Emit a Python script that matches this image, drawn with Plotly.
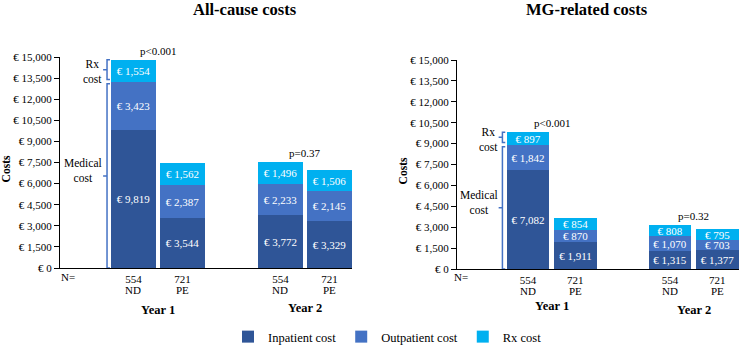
import plotly.graph_objects as go

# ---------------- data ----------------
years = ["Year 1", "Year 2"]
arms = ["ND", "PE"]
n_patients = [554, 721]
components = ["Inpatient cost", "Outpatient cost", "Rx cost"]
colors = ["#2F5597", "#4472C4", "#00B0F0"]

# order: Y1-ND, Y1-PE, Y2-ND, Y2-PE
allcause_inpatient = [9819, 3544, 3772, 3329]
allcause_outpatient = [3423, 2387, 2233, 2145]
allcause_rx = [1554, 1562, 1496, 1506]

mg_inpatient = [7082, 1911, 1315, 1377]
mg_outpatient = [1842, 870, 1070, 703]
mg_rx = [897, 854, 808, 795]

allcause_p = ["p&lt;0.001", "p=0.37"]
mg_p = ["p&lt;0.001", "p=0.32"]

titles = ["All-cause costs", "MG-related costs"]
y_ticks = list(range(0, 15001, 1500))
y_tick_text = [f"€ {v:,}" for v in y_ticks]

FONT = "Liberation Serif, Times New Roman, serif"

# ---------------- layout helpers ----------------
W, H, MB = 741, 353, 8          # figure size and bottom margin (room for legend)
PH = H - MB                     # plot-area height in px


def py(pix):
    """pixel row from top -> paper fraction"""
    return (PH - pix) / PH


positions = [1.5 + 3 * g + a for g in range(len(years)) for a in range(len(arms))]
tick_text = [f"{n_patients[a]}" for g in range(len(years)) for a in range(len(arms))]
arm_text = [arms[a] for g in range(len(years)) for a in range(len(arms))]
group_mid = [1.5 + 3 * g + 0.5 for g in range(len(years))]

panels = [
    dict(data=[allcause_inpatient, allcause_outpatient, allcause_rx], p=allcause_p,
         xa="x", ya="y", xdom=[60 / W, 352 / W], ydom=[py(268), py(57)],
         title_x=245, costs_x=6, year_y=[310, 308], arm_y=290, n_shift=-1),
    dict(data=[mg_inpatient, mg_outpatient, mg_rx], p=mg_p,
         xa="x2", ya="y2", xdom=[457 / W, 739 / W], ydom=[py(269), py(60)],
         title_x=587, costs_x=403, year_y=[306, 310], arm_y=291, n_shift=-5),
]

fig = go.Figure()
annotations = []
shapes = []

for pi, pan in enumerate(panels):
    for ci, comp in enumerate(components):
        vals = pan["data"][ci]
        fig.add_trace(go.Bar(
            x=positions, y=vals, width=0.9,
            name=comp, legendgroup=comp, showlegend=(pi == 0),
            marker=dict(color=colors[ci], line=dict(width=0)),
            text=[f"€ {v:,}" for v in vals],
            textposition="inside", insidetextanchor="middle",
            textfont=dict(family=FONT, size=11, color="white"),
            constraintext="none",
            xaxis=pan["xa"], yaxis=pan["ya"],
            hoverinfo="skip",
        ))
    totals = [sum(pan["data"][c][i] for c in range(3)) for i in range(len(positions))]
    medical = [pan["data"][0][i] + pan["data"][1][i] for i in range(len(positions))]

    # arm labels under N counts
    for i, pos in enumerate(positions):
        annotations.append(dict(x=pos, y=py(pan["arm_y"]), xref=pan["xa"], yref="paper",
                                text=arm_text[i], showarrow=False, yanchor="middle",
                                font=dict(family=FONT, size=11, color="black")))

    # p-values above each year group
    for g in range(len(years)):
        top = max(totals[2 * g], totals[2 * g + 1])
        annotations.append(dict(x=group_mid[g], y=top, xref=pan["xa"], yref=pan["ya"],
                                text=pan["p"][g], showarrow=False, yanchor="bottom", yshift=1,
                                font=dict(family=FONT, size=11, color="black")))
        # Year labels
        annotations.append(dict(x=group_mid[g], y=py(pan["year_y"][g]),
                                xref=pan["xa"], yref="paper", text=f"<b>{years[g]}</b>",
                                showarrow=False, yanchor="middle",
                                font=dict(family=FONT, size=12.5, color="black")))

    # braces for ND Year 1
    gap = 150
    xl, xe, xn = 0.96, 1.02, 0.88
    for (y0, y1, label) in [(medical[0] + gap, totals[0], "Rx<br>cost"),
                            (0, medical[0] - gap, "Medical<br>cost")]:
        ym = (y0 + y1) / 2
        path = (f"M {xe},{y1} L {xl},{y1} L {xl},{ym} L {xn},{ym} "
                f"M {xl},{ym} L {xl},{y0} L {xe},{y0}")
        shapes.append(dict(type="path", path=path, xref=pan["xa"], yref=pan["ya"],
                           line=dict(color="#4472C4", width=1.5)))
        annotations.append(dict(x=xn, y=ym, xref=pan["xa"], yref=pan["ya"], text=label,
                                showarrow=False, xanchor="right", yanchor="middle", xshift=1,
                                yshift=-2 if label.startswith("Rx") else 5,
                                font=dict(family=FONT, size=11.5, color="black")))

    # panel title
    annotations.append(dict(x=pan["title_x"] / W, y=1, xref="paper", yref="paper",
                            text=f"<b>{titles[pi]}</b>", showarrow=False,
                            xanchor="center", yanchor="top", yshift=2,
                            font=dict(family=FONT, size=16.5, color="black")))
    # y title
    annotations.append(dict(x=pan["costs_x"] / W, y=(pan["ydom"][0] + pan["ydom"][1]) / 2 - 0.02,
                            xref="paper", yref="paper", text="<b>Costs</b>", textangle=-90,
                            showarrow=False, xanchor="center", yanchor="middle",
                            font=dict(family=FONT, size=11.5, color="black")))
    # N=
    annotations.append(dict(x=0, y=py(277), xref=f"{pan['xa']} domain", yref="paper",
                            text="N=", showarrow=False, xanchor="left", yanchor="middle",
                            xshift=pan["n_shift"],
                            font=dict(family=FONT, size=11, color="black")))

axis_common_x = dict(range=[0, 5.96], tickmode="array", tickvals=positions, ticktext=tick_text,
                     showline=True, linecolor="black", linewidth=1.2, ticks="",
                     showgrid=False, zeroline=False, automargin=False, ticklabelstandoff=1,
                     tickfont=dict(family=FONT, size=11, color="black"))
axis_common_y = dict(range=[0, 15000], tickmode="array", tickvals=y_ticks, ticktext=y_tick_text,
                     showline=True, linecolor="black", linewidth=1.2, ticks="outside",
                     ticklen=5, tickcolor="black", showgrid=False, zeroline=False,
                     automargin=False,
                     tickfont=dict(family=FONT, size=11, color="black"))

fig.update_layout(
    width=W, height=H,
    margin=dict(l=0, r=0, t=0, b=MB),
    font=dict(family=FONT, size=11, color="black"),
    paper_bgcolor="white", plot_bgcolor="white",
    barmode="stack", bargap=0,
    uniformtext=dict(minsize=11, mode="show"),
    xaxis=dict(domain=panels[0]["xdom"], anchor="y", **axis_common_x),
    yaxis=dict(domain=panels[0]["ydom"], anchor="x", **axis_common_y),
    xaxis2=dict(domain=panels[1]["xdom"], anchor="y2", **axis_common_x),
    yaxis2=dict(domain=panels[1]["ydom"], anchor="x2", **axis_common_y),
    legend=dict(orientation="h", x=228 / W, y=-(MB - 1) / PH, xanchor="left", yanchor="bottom",
                font=dict(family=FONT, size=12.5, color="black"), traceorder="normal",
                itemclick=False, itemdoubleclick=False),
    annotations=annotations,
    shapes=shapes,
    showlegend=True,
)

post = (
    "document.documentElement.style.margin='0';"
    "document.documentElement.style.overflow='hidden';"
    "document.body.style.margin='0';"
    "document.body.style.overflow='hidden';"
    "window.scrollTo(0,0);"
)
fig.write_html("out.html", config={"displayModeBar": False}, post_script=post)
